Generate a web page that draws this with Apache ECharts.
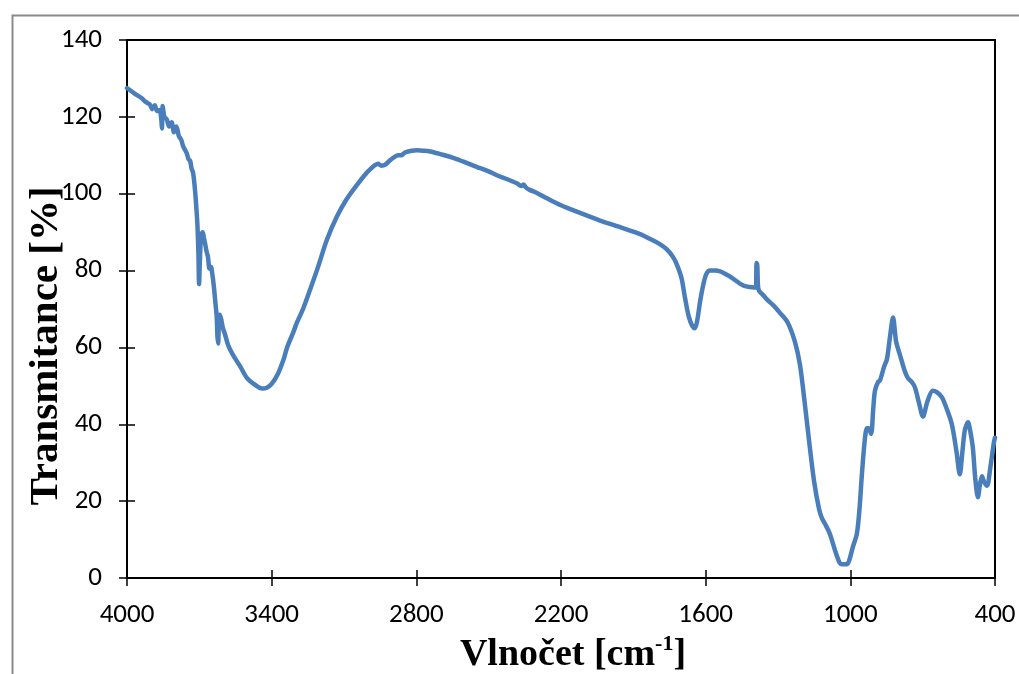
<!DOCTYPE html>
<html>
<head>
<meta charset="utf-8">
<script src="https://cdn.jsdelivr.net/npm/echarts@6/dist/echarts.min.js"></script>
<style>
html,body{margin:0;padding:0;background:#fff;}
#chart{width:1019px;height:674px;}
</style>
</head>
<body>
<div id="chart"></div>
<script>
// Wavenumber (cm-1) and transmittance (%)
const wavenumbers = [
4000,3980,3960,3940,3925,3915,3905,3895,3885,3875,3865,3858,3855,3852,3845,3835,3825,3815,3805,3795,
3785,3775,3768,3760,3752,3745,3738,3732,3726,3718,3712,3708,3704,3701,3698,3694,3690,3686,3681,3676,
3670,3664,3658,3652,3646,3640,3634,3628,3625,3622,3619,3615,3610,3602,3594,3580,3560,3530,3502,3470,
3440,3420,3400,3375,3350,3336,3310,3295,3270,3241,3210,3171,3130,3090,3050,3005,2984,2970,2959,2945,
2930,2909,2890,2876,2862,2855,2845,2820,2797,2770,2743,2700,2650,2607,2550,2500,2466,2420,2383,2365,
2355,2345,2330,2300,2258,2200,2121,2038,1950,1872,1830,1790,1761,1735,1719,1700,1686,1670,1655,1645,
1635,1623,1611,1598,1582,1560,1540,1520,1500,1480,1458,1440,1416,1400,1392,1389,1386,1383,1379,1360,
1346,1320,1292,1260,1230,1209,1190,1168,1150,1130,1118,1100,1085,1065,1045,1035,1015,1005,990,973,
962,952,940,931,925,914,905,898,885,877,860,848,835,823,810,794,775,761,745,732,
715,699,680,658,640,620,600,579,560,546,535,525,512,502,492,482,471,462,454,445,
433,420,404,400
];
const transmittance = [
127.5,126.6,125.7,124.9,124.0,123.6,123.2,122.0,123.0,121.5,121.8,119.5,117.0,122.8,120.0,119.3,117.5,118.6,116.0,117.5,
115.0,114.0,112.5,111.5,110.5,109.0,108.5,106.5,105.5,101.0,96.0,92.0,85.0,76.5,82.0,88.0,89.5,90.0,88.5,87.0,
85.0,83.5,80.5,81.0,79.0,76.0,72.0,68.0,63.0,61.0,66.0,68.5,67.5,65.0,63.5,60.5,58.0,55.0,52.0,50.3,
49.3,49.5,50.5,53.0,57.0,60.0,64.0,66.5,70.0,75.0,80.5,88.0,94.0,98.5,102.0,105.5,106.8,107.5,107.8,107.3,
107.5,108.7,109.6,110.0,110.0,110.3,110.8,111.2,111.3,111.2,111.0,110.3,109.4,108.4,107.0,105.8,104.8,103.7,102.7,102.0,
102.4,101.6,101.0,100.2,98.8,97.0,95.0,93.0,91.2,89.5,88.2,86.9,85.5,83.5,81.5,78.0,73.0,68.0,65.5,65.0,
67.0,72.0,76.0,79.0,80.0,80.0,79.8,79.2,78.5,77.6,76.6,76.0,75.7,75.6,75.6,82.0,81.5,76.0,74.8,73.5,
72.5,71.0,69.0,66.5,61.5,55.5,46.0,34.0,25.0,18.0,15.6,13.5,11.5,7.5,4.0,3.6,3.6,4.5,8.0,11.5,
18.0,27.0,36.0,39.0,39.0,37.5,44.0,48.7,51.0,51.4,55.0,57.0,63.0,67.8,61.5,58.0,54.0,52.0,51.0,49.6,
45.5,42.0,46.0,48.7,48.3,47.0,44.0,40.0,33.0,27.0,33.0,38.5,40.5,38.0,34.0,26.0,21.0,24.5,26.5,25.0,
24.0,28.5,35.5,36.5
];
const xTickValues = [4000, 3400, 2800, 2200, 1600, 1000, 400];
const yTickValues = [0, 20, 40, 60, 80, 100, 120, 140];
const xTitle = 'Vlnočet [cm';
const xTitleSup = '-1';
const yTitle = 'Transmitance [%]';

const seriesData = wavenumbers.map((w, i) => [w, transmittance[i]]);

const labelFont = 'Carlito, Calibri, Lato, sans-serif';
const titleFont = '"Liberation Serif", "Times New Roman", serif';

const chart = echarts.init(document.getElementById('chart'), null, {renderer: 'canvas'});
const axisLineStyle = {color: '#000', width: 2};
const tickStyle = {color: '#000', width: 1.5};

chart.setOption({
  animation: false,
  backgroundColor: '#fff',
  grid: {left: 127, right: 24, top: 40, bottom: 96, show: true, borderColor: '#000', borderWidth: 2, backgroundColor: 'transparent'},
  xAxis: [
    {
      type: 'value', inverse: true, min: 400, max: 4000, position: 'bottom',
      axisLine: {show: true, lineStyle: axisLineStyle},
      axisTick: {show: true, length: 8, customValues: xTickValues, lineStyle: tickStyle},
      axisLabel: {show: true, customValues: xTickValues, margin: 24, fontFamily: labelFont, fontSize: 27, color: '#000',
                  formatter: v => String(v)},
      splitLine: {show: false}
    },
    {
      type: 'value', inverse: true, min: 400, max: 4000, position: 'bottom',
      axisLine: {show: false},
      axisTick: {show: true, inside: true, length: 8, customValues: xTickValues, lineStyle: tickStyle},
      axisLabel: {show: false},
      splitLine: {show: false}
    }
  ],
  yAxis: [
    {
      type: 'value', min: 0, max: 140, interval: 20, position: 'left',
      axisLine: {show: true, lineStyle: axisLineStyle},
      axisTick: {show: true, length: 8, customValues: yTickValues, lineStyle: tickStyle},
      axisLabel: {show: true, customValues: yTickValues, margin: 25, fontFamily: labelFont, fontSize: 27, color: '#000',
                  formatter: v => String(v)},
      splitLine: {show: false}
    },
    {
      type: 'value', min: 0, max: 140, interval: 20, position: 'left',
      axisLine: {show: false},
      axisTick: {show: true, inside: true, length: 8, customValues: yTickValues, lineStyle: tickStyle},
      axisLabel: {show: false},
      splitLine: {show: false}
    }
  ],
  series: [{
    type: 'line',
    xAxisIndex: 0, yAxisIndex: 0,
    data: seriesData,
    showSymbol: false,
    smooth: 0.3,
    lineStyle: {color: '#4a7ebb', width: 4.5, cap: 'round', join: 'round'},
    z: 3
  }],
  graphic: [
    {type: 'rect', left: 10, top: 13, z: -1, silent: true,
     shape: {width: 1030, height: 700},
     style: {fill: 'none', stroke: '#8a8a8a', lineWidth: 2}},
    {type: 'text', x: 573, y: 655, silent: true,
     style: {
       text: '{a|' + xTitle + '}{b|' + xTitleSup + '}{a|]}',
       align: 'center', verticalAlign: 'middle',
       rich: {
         a: {fontFamily: titleFont, fontWeight: 'bold', fontSize: 38, fill: '#000', lineHeight: 44},
         b: {fontFamily: titleFont, fontWeight: 'bold', fontSize: 22, fill: '#000', verticalAlign: 'top', lineHeight: 26}
       }
     }},
    {type: 'text', x: 46, y: 346, rotation: Math.PI / 2, silent: true,
     style: {
       text: yTitle, align: 'center', verticalAlign: 'middle',
       fontFamily: titleFont, fontWeight: 'bold', fontSize: 41, fill: '#000'
     }}
  ]
});
</script>
</body>
</html>
